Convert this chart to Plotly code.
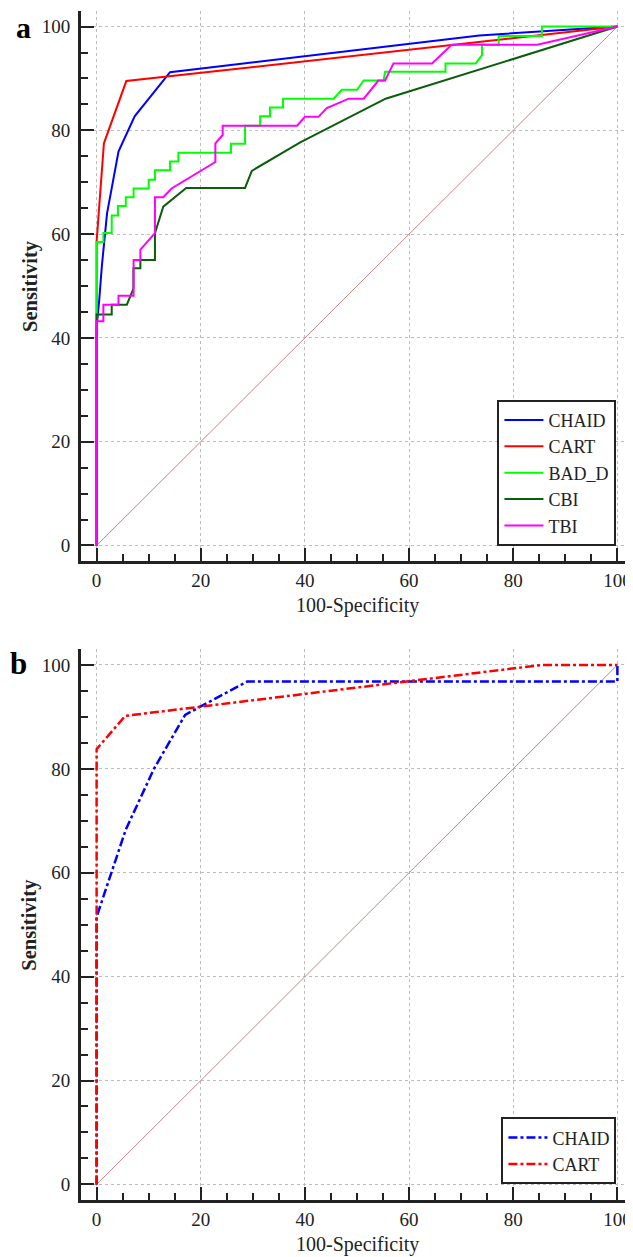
import plotly.graph_objects as go

# ---------------- Panel a data (100-Specificity, Sensitivity) ----------------
chaid_a_x = [0, 0, 0.5, 1.0, 2.0, 4.2, 7.3, 14.1, 73.5, 100]
chaid_a_y = [0, 42, 47.3, 53.8, 64.0, 75.9, 82.7, 91.2, 98.3, 100]

cart_a_x = [0, 0, 1.4, 5.7, 100]
cart_a_y = [0, 58.6, 77.5, 89.5, 100]

badd_x = [0, 0, 1.3, 1.3, 2.9, 2.9, 4.1, 4.1, 5.6, 5.6, 7.1, 7.1, 10.0, 10.0,
          11.2, 11.2, 14.1, 14.1, 15.7, 15.7, 25.8, 25.8, 28.5, 28.5, 31.4, 31.4,
          33.3, 33.3, 35.8, 35.8, 45.5, 47.1, 50.0, 51.3, 55.1, 55.4, 67.0, 67.0,
          72.8, 74.0, 74.0, 77.2, 77.2, 85.5, 85.5, 100]
badd_y = [0, 58.5, 58.5, 60.2, 60.2, 63.6, 63.6, 65.4, 65.4, 67.1, 67.1, 68.8,
          68.8, 70.5, 70.5, 72.3, 72.3, 74.0, 74.0, 75.7, 75.7, 77.4, 77.4, 80.9,
          80.9, 82.7, 82.7, 84.4, 84.4, 86.1, 86.1, 87.8, 87.8, 89.6, 89.6, 91.3,
          91.3, 92.9, 92.9, 94.5, 96.5, 96.5, 98.2, 98.2, 100, 100]

cbi_x = [0, 0, 2.9, 2.9, 5.8, 7.07, 7.07, 8.4, 8.4, 11.2, 11.2, 12.8, 17.2,
         28.5, 29.8, 39.1, 55.5, 100]
cbi_y = [0, 44.5, 44.5, 46.4, 46.4, 49.5, 53.4, 53.4, 55.0, 55.0, 60.2, 65.3,
         68.9, 68.9, 72.2, 77.7, 86.1, 100]

tbi_x = [0, 0, 1.3, 1.3, 4.2, 4.2, 7.1, 7.1, 8.4, 8.4, 11.2, 11.2, 12.8, 14.4,
         22.8, 22.8, 24.2, 24.2, 38.5, 40.0, 42.6, 44.2, 48.4, 51.3, 54.1, 55.4,
         57.0, 64.4, 68.2, 84.6, 100]
tbi_y = [0, 43.2, 43.2, 46.4, 46.4, 48.1, 48.1, 55.0, 55.0, 57.0, 60.2, 67.1,
         67.1, 68.8, 73.9, 77.5, 79.1, 80.9, 80.9, 82.6, 82.6, 84.3, 86.1, 86.1,
         89.6, 89.6, 92.9, 92.9, 96.5, 96.5, 100]

# ---------------- Panel b data ----------------
chaid_b_x = [0, 0, 5.6, 11.0, 17.0, 28.9, 100, 100]
chaid_b_y = [0, 51.5, 68.3, 80.0, 90.4, 96.8, 96.8, 100]

cart_b_x = [0, 0, 5.5, 85.5, 100]
cart_b_y = [0, 83.8, 90.2, 100, 100]

diag = [0, 100]
tick_vals = [0, 20, 40, 60, 80, 100]
tick_text = ["0", "20", "40", "60", "80", "100"]

SERIF = "Liberation Serif"
INK = "#222222"
DIAG = "#c48484"

fig = go.Figure()

# Panel a
fig.add_trace(go.Scatter(x=diag, y=diag, mode="lines", showlegend=False, hoverinfo="skip",
                         line=dict(color=DIAG, width=1), xaxis="x", yaxis="y"))
series_a = [
    ("CHAID", chaid_a_x, chaid_a_y, "#0000ff"),
    ("CART", cart_a_x, cart_a_y, "#ff0000"),
    ("BAD_D", badd_x, badd_y, "#00ff00"),
    ("CBI", cbi_x, cbi_y, "#0a5e0a"),
    ("TBI", tbi_x, tbi_y, "#ff00ff"),
]
for name, xs, ys, col in series_a:
    fig.add_trace(go.Scatter(x=xs, y=ys, mode="lines", name=name,
                             line=dict(color=col, width=2),
                             xaxis="x", yaxis="y", legend="legend"))

# Panel b
fig.add_trace(go.Scatter(x=diag, y=diag, mode="lines", showlegend=False, hoverinfo="skip",
                         line=dict(color=DIAG, width=1), xaxis="x2", yaxis="y2"))
series_b = [
    ("CHAID", chaid_b_x, chaid_b_y, "#0000ff"),
    ("CART", cart_b_x, cart_b_y, "#ff0000"),
]
for name, xs, ys, col in series_b:
    fig.add_trace(go.Scatter(x=xs, y=ys, mode="lines", name=name,
                             line=dict(color=col, width=2.5, dash="dashdot"),
                             xaxis="x2", yaxis="y2", legend="legend2"))

def axis_style(domain, anchor, standoff):
    return dict(
        domain=domain, anchor=anchor, range=[-3, 103],
        tickmode="array", tickvals=tick_vals, ticktext=tick_text,
        showline=True, linewidth=3, linecolor=INK, mirror=False,
        ticks="inside", ticklen=13, tickwidth=2, tickcolor=INK,
        minor=dict(ticks="inside", ticklen=7, tickwidth=2, tickcolor=INK,
                   dtick=5, tick0=0, showgrid=False),
        showgrid=True, gridcolor="#bdbdbd", gridwidth=1, griddash="dot",
        zeroline=False, ticklabelstandoff=standoff,
        tickfont=dict(family=SERIF, size=19, color=INK),
        fixedrange=True,
    )

legend_common = dict(
    xanchor="right", yanchor="bottom", x=0.970,
    bgcolor="white", bordercolor=INK, borderwidth=2,
    font=dict(family=SERIF, size=18, color=INK),
    itemwidth=39, tracegroupgap=0,
)

annotations = [
    dict(text="<b>a</b>", x=-0.105, y=1.0021, xref="paper", yref="paper",
         showarrow=False, xanchor="center", yanchor="top",
         font=dict(family=SERIF, size=30, color="black")),
    dict(text="<b>b</b>", x=-0.114, y=0.4508, xref="paper", yref="paper",
         showarrow=False, xanchor="center", yanchor="middle",
         font=dict(family=SERIF, size=31, color="black")),
    dict(text="<b>Sensitivity</b>", x=-0.0924, y=0.7687, xref="paper", yref="paper",
         showarrow=False, textangle=-90, xanchor="center", yanchor="middle",
         font=dict(family=SERIF, size=20.5, color=INK)),
    dict(text="<b>Sensitivity</b>", x=-0.0924, y=0.2315, xref="paper", yref="paper",
         showarrow=False, textangle=-90, xanchor="center", yanchor="middle",
         font=dict(family=SERIF, size=20.5, color=INK)),
    dict(text="100-Specificity", x=0.5, y=0.5004, xref="paper", yref="paper",
         showarrow=False, xanchor="center", yanchor="middle",
         font=dict(family=SERIF, size=20, color=INK)),
    dict(text="100-Specificity", x=0.5, y=-0.0378, xref="paper", yref="paper",
         showarrow=False, xanchor="center", yanchor="middle",
         font=dict(family=SERIF, size=20, color=INK)),
]

# The page body adds an 8px offset, so the figure is sized 8px smaller.
fig.update_layout(
    width=625, height=1249, autosize=False,
    margin=dict(l=73, r=0, t=3, b=57),
    paper_bgcolor="white", plot_bgcolor="white",
    xaxis=axis_style([0, 1], "y", 0), yaxis=axis_style([0.5374, 1], "x", 4),
    xaxis2=axis_style([0, 1], "y2", 0), yaxis2=axis_style([0, 0.4631], "x2", 4),
    legend=dict(y=0.5503, **legend_common),
    legend2=dict(y=0.0131, **legend_common),
    annotations=annotations,
    showlegend=True,
)

fig.write_html("out.html")
